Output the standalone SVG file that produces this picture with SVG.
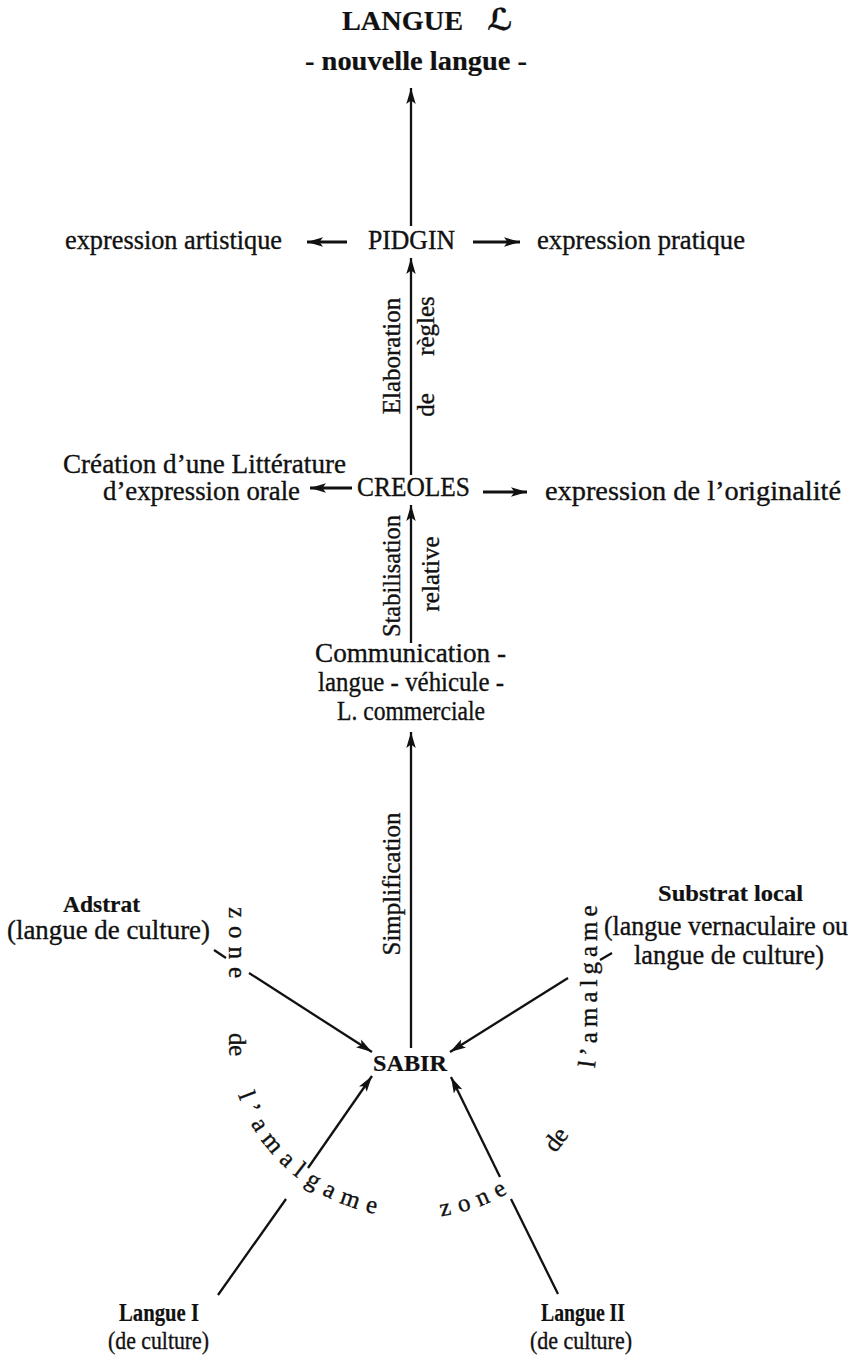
<svg xmlns="http://www.w3.org/2000/svg" width="857" height="1363" viewBox="0 0 857 1363">
<defs>
  <marker id="ah" markerUnits="userSpaceOnUse" markerWidth="17" markerHeight="10" refX="16" refY="5" orient="auto">
    <path d="M0,0.3 L16,5 L0,9.7 L3.5,5 z" fill="#111"/>
  </marker>
  <path id="ring" d="M229,890 L229,1040 A186,178 0 0 0 415,1218 A182,178 0 0 0 597,1040 L597,890" fill="none"/>
</defs>
<style>
  text{font-family:"Liberation Serif","Times New Roman",serif;fill:#111;font-size:27px;stroke:#111;stroke-width:0.35}
  .b{font-weight:bold;stroke-width:0.2}
  .c{text-anchor:middle}
  .t{font-size:28px}
  .m{font-size:24px}
  .s{font-size:25px}
  .v{font-size:25px}
  .ln{stroke:#111;stroke-width:2.3;fill:none}
  .hv{stroke-width:3}
  .arr{marker-end:url(#ah)}
</style>
<rect width="857" height="1363" fill="#fff"/>

<g id="connectors">
  <line class="ln arr" x1="411" y1="226" x2="411" y2="88"/>
  <line class="ln hv arr" x1="347" y1="242" x2="307" y2="242"/>
  <line class="ln hv arr" x1="473" y1="242" x2="520" y2="242"/>
  <line class="ln arr" x1="411" y1="475" x2="411" y2="258"/>
  <line class="ln hv arr" x1="352" y1="488" x2="310" y2="488"/>
  <line class="ln hv arr" x1="483" y1="492" x2="527" y2="492"/>
  <line class="ln arr" x1="411" y1="643" x2="411" y2="505"/>
  <line class="ln arr" x1="411" y1="1048" x2="411" y2="732"/>
  <line class="ln arr" x1="249" y1="973" x2="372" y2="1052"/>
  <line class="ln" x1="214" y1="950" x2="226" y2="958"/>
  <line class="ln arr" x1="568" y1="978" x2="450" y2="1052"/>
  <line class="ln" x1="600" y1="960" x2="612" y2="953"/>
  <line class="ln" x1="218" y1="1295" x2="286" y2="1199"/>
  <line class="ln arr" x1="308" y1="1168" x2="372" y2="1076"/>
  <line class="ln" x1="558" y1="1294" x2="511" y2="1199"/>
  <line class="ln arr" x1="500" y1="1177" x2="451" y2="1077"/>
</g>

<g id="langue">
  <text class="b t" x="342" y="30" textLength="121" lengthAdjust="spacingAndGlyphs">LANGUE</text>
  <text class="t" x="487" y="30" style="font-family:'DejaVu Serif','DejaVu Sans',serif;font-style:italic;font-weight:bold;font-size:30px">ℒ</text>
  <text class="b t" x="305" y="70" textLength="222" lengthAdjust="spacingAndGlyphs">- nouvelle langue -</text>
</g>

<g id="pidgin">
  <text x="368" y="249" textLength="87" lengthAdjust="spacingAndGlyphs">PIDGIN</text>
</g>
<g id="expr-artistique"><text x="65" y="249" textLength="217" lengthAdjust="spacingAndGlyphs">expression artistique</text></g>
<g id="expr-pratique"><text x="537" y="249" textLength="208" lengthAdjust="spacingAndGlyphs">expression pratique</text></g>

<g id="label-elaboration">
  <text class="c v" transform="translate(400,356) rotate(-90)">Elaboration</text>
  <text class="c v" transform="translate(434,326) rotate(-90)">règles</text>
  <text class="c v" transform="translate(434,405) rotate(-90)">de</text>
</g>

<g id="creoles"><text x="357" y="496" textLength="113" lengthAdjust="spacingAndGlyphs">CREOLES</text></g>
<g id="litterature">
  <text x="63" y="473" textLength="283" lengthAdjust="spacingAndGlyphs">Création d’une Littérature</text>
  <text x="103" y="500" textLength="197" lengthAdjust="spacingAndGlyphs">d’expression orale</text>
</g>
<g id="originalite"><text x="545" y="500" textLength="296" lengthAdjust="spacingAndGlyphs">expression de l’originalité</text></g>

<g id="label-stabilisation">
  <text class="c v" transform="translate(400,576) rotate(-90)" textLength="122" lengthAdjust="spacingAndGlyphs">Stabilisation</text>
  <text class="c v" transform="translate(439,574) rotate(-90)">relative</text>
</g>

<g id="communication">
  <text x="315" y="662" textLength="191" lengthAdjust="spacingAndGlyphs">Communication -</text>
  <text x="318" y="691" textLength="186" lengthAdjust="spacingAndGlyphs">langue - véhicule -</text>
  <text x="337" y="720" textLength="148" lengthAdjust="spacingAndGlyphs">L. commerciale</text>
</g>

<g id="label-simplification">
  <text class="c v" transform="translate(400,884) rotate(-90)">Simplification</text>
</g>

<g id="adstrat">
  <text class="b m" x="63" y="912" textLength="77" lengthAdjust="spacingAndGlyphs">Adstrat</text>
  <text x="7" y="939" textLength="203" lengthAdjust="spacingAndGlyphs">(langue de culture)</text>
</g>

<g id="substrat">
  <text class="b m" x="658" y="901" textLength="145" lengthAdjust="spacingAndGlyphs">Substrat local</text>
  <text x="604" y="935" textLength="244" lengthAdjust="spacingAndGlyphs">(langue vernaculaire ou</text>
  <text x="634" y="964" textLength="190" lengthAdjust="spacingAndGlyphs">langue de culture)</text>
</g>

<g id="sabir"><text class="b m" x="373" y="1071" textLength="74" lengthAdjust="spacingAndGlyphs">SABIR</text></g>

<g id="zone-amalgame">
  <text class="v" style="letter-spacing:8px"><textPath href="#ring" startOffset="17">zone</textPath></text>
  <text class="v"><textPath href="#ring" startOffset="143">de</textPath></text>
  <text class="v" style="letter-spacing:8px"><textPath href="#ring" startOffset="206">l’amalgame</textPath></text>
  <text class="v" style="letter-spacing:8px"><textPath href="#ring" startOffset="462">zone</textPath></text>
  <text class="v"><textPath href="#ring" startOffset="595">de</textPath></text>
  <text class="v" style="letter-spacing:5px"><textPath href="#ring" startOffset="690">l’amalgame</textPath></text>
</g>

<g id="langue-1">
  <text class="b s" x="119" y="1321" textLength="80" lengthAdjust="spacingAndGlyphs">Langue I</text>
  <text class="s" x="108" y="1349" textLength="101" lengthAdjust="spacingAndGlyphs">(de culture)</text>
</g>
<g id="langue-2">
  <text class="b s" x="541" y="1321" textLength="84" lengthAdjust="spacingAndGlyphs">Langue II</text>
  <text class="s" x="530" y="1349" textLength="102" lengthAdjust="spacingAndGlyphs">(de culture)</text>
</g>
</svg>
